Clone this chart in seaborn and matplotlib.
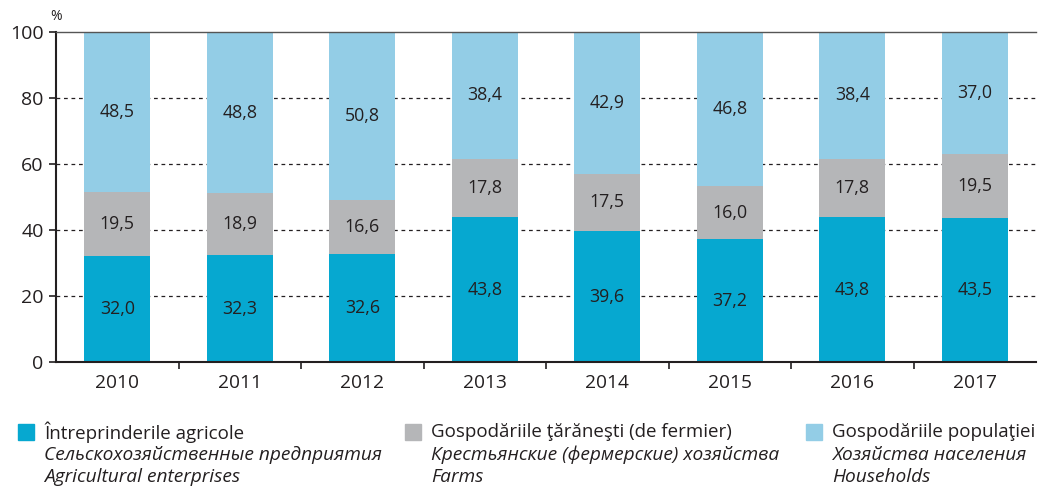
import numpy as np
import pandas as pd
import matplotlib
matplotlib.use("Agg")
import matplotlib.pyplot as plt
from matplotlib.patches import Rectangle
from matplotlib.ticker import FixedLocator
import seaborn as sns

years = ["2010", "2011", "2012", "2013", "2014", "2015", "2016", "2017"]
enterprises = [32.0, 32.3, 32.6, 43.8, 39.6, 37.2, 43.8, 43.5]
farms = [19.5, 18.9, 16.6, 17.8, 17.5, 16.0, 17.8, 19.5]
households = [48.5, 48.8, 50.8, 38.4, 42.9, 46.8, 38.4, 37.0]

c_ent = "#06A8D0"
c_farm = "#B5B6B8"
c_hh = "#93CDE6"

sns.set_theme(style="white")
plt.rcParams["font.family"] = ["Open Sans", "DejaVu Sans"]

df = pd.DataFrame({"year": years, "ent": enterprises, "farm": farms, "hh": households})
df["top_farm"] = df["ent"] + df["farm"]
df["top_hh"] = df["top_farm"] + df["hh"]

fig = plt.figure(figsize=(10.4, 4.88), dpi=100)
ax = fig.add_axes([56 / 1040, 1 - 362 / 488, 980 / 1040, 330 / 488])

w = 0.54
sns.barplot(data=df, x="year", y="top_hh", color=c_hh, width=w, saturation=1, ax=ax, zorder=2)
sns.barplot(data=df, x="year", y="top_farm", color=c_farm, width=w, saturation=1, ax=ax, zorder=2)
sns.barplot(data=df, x="year", y="ent", color=c_ent, width=w, saturation=1, ax=ax, zorder=2)
for p in ax.patches:
    p.set_edgecolor("none")

# segment value labels
for i in range(len(years)):
    segs = [(0, enterprises[i]), (df["ent"][i], farms[i]), (df["top_farm"][i], households[i])]
    for base, v in segs:
        ax.text(i, base + v / 2, f"{v:.1f}".replace(".", ","), ha="center", va="center",
                fontsize=12.8, color="#231F20", zorder=3)

ax.set_xlim(-0.5, len(years) - 0.5)
ax.set_ylim(0, 100)
ax.set_yticks([0, 20, 40, 60, 80, 100])
ax.set_xlabel("")
ax.set_ylabel("")
ax.tick_params(axis="y", which="major", direction="out", length=5, width=1.2,
               color="#231F20", labelsize=14, labelcolor="#231F20", left=True, pad=4)
ax.tick_params(axis="x", which="major", length=0, labelsize=13.8, labelcolor="#231F20", pad=9)
ax.xaxis.set_minor_locator(FixedLocator(np.arange(0.5, len(years) - 1, 1.0)))
ax.tick_params(axis="x", which="minor", direction="out", length=5, width=1.2,
               color="#231F20", bottom=True)

for y in [20, 40, 60, 80]:
    ax.axhline(y, color="#231F20", lw=0.9, ls=(0, (3, 3)), zorder=1)

for s in ["left", "bottom"]:
    ax.spines[s].set_color("#231F20")
    ax.spines[s].set_linewidth(1.5)
ax.spines["top"].set_color("#555555")
ax.spines["top"].set_linewidth(1.0)
ax.spines["right"].set_visible(False)

fig.text(50 / 1040, 1 - 17 / 488, "%", fontsize=10, color="#231F20", ha="left", va="center")

# legend
entries = [
    (18, c_ent, "Întreprinderile agricole", ["Сельскохозяйственные предприятия", "Agricultural enterprises"]),
    (405, c_farm, "Gospodăriile ţărăneşti (de fermier)", ["Крестьянские (фермерские) хозяйства", "Farms"]),
    (806, c_hh, "Gospodăriile populaţiei", ["Хозяйства населения", "Households"]),
]
for x0, col, title, lines in entries:
    fig.patches.append(Rectangle((x0 / 1040, 1 - 440 / 488), 16 / 1040, 16 / 488,
                                 transform=fig.transFigure, color=col, figure=fig))
    fig.text((x0 + 26) / 1040, 1 - 432 / 488, title, fontsize=13.5, color="#231F20",
             ha="left", va="center")
    for k, t in enumerate(lines):
        fig.text((x0 + 26) / 1040, 1 - (455 + 22 * k) / 488, t, fontsize=13.8,
                 style="italic", color="#231F20", ha="left", va="center")

fig.savefig("out.png", dpi=100)
